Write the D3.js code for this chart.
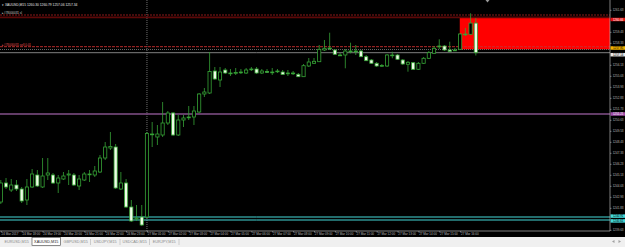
<!doctype html>
<html>
<head>
<meta charset="utf-8">
<script src="https://cdnjs.cloudflare.com/ajax/libs/d3/7.8.5/d3.min.js"></script>
<style>
  body { margin: 0; background: #000; }
  svg { display: block; }
  text { font-family: "Liberation Sans", Arial, sans-serif; }
</style>
</head>
<body>
<svg id="chart" width="625" height="247"></svg>
<script>
// XAUUSD M15, 24 Mar 2017 17:00 -> 27 Mar 2017 16:45 (server time)
const open = [1242.41,1244.31,1243.61,1244.11,1243.71,1242.61,1243.91,1245.11,1243.91,1245.11,
  1245.11,1244.31,1244.71,1245.11,1245.11,1244.01,1244.61,1245.16,1245.11,1245.41,
  1246.81,1247.81,1247.91,1243.71,1244.31,1241.91,1240.71,1240.91,1240.91,1249.21,
  1248.91,1249.11,1250.31,1251.31,1249.11,1250.61,1250.86,1250.91,1251.41,1253.21,
  1253.31,1255.51,1254.61,1255.61,1255.31,1255.31,1255.36,1255.31,1255.66,1255.71,
  1255.31,1255.46,1255.36,1255.51,1255.41,1255.26,1255.31,1255.18,1254.94,1256.01,
  1256.28,1256.44,1257.61,1257.81,1257.61,1257.11,1257.11,1257.48,1257.51,1257.51,
  1256.94,1256.61,1256.28,1256.01,1256.01,1257.11,1257.11,1256.61,1256.18,1256.34,
  1255.68,1256.28,1256.78,1257.28,1257.96,1258.01,1257.61,1257.58,1257.68,1259.21,
  1259.18,1260.30];
const high = [1244.61,1244.81,1244.71,1244.61,1243.91,1244.71,1245.71,1245.61,1246.81,1246.81,
  1245.31,1245.11,1245.41,1245.61,1245.31,1245.11,1245.41,1245.61,1246.01,1247.11,
  1248.41,1249.41,1248.21,1245.41,1244.71,1242.61,1242.11,1242.11,1249.41,1250.41,
  1250.11,1252.41,1251.51,1251.41,1251.11,1251.11,1252.01,1252.01,1253.31,1253.81,
  1257.41,1255.91,1255.91,1255.81,1255.71,1255.81,1255.71,1255.81,1255.91,1255.91,
  1255.71,1255.71,1255.81,1255.71,1255.61,1255.61,1255.51,1255.31,1256.21,1256.81,
  1256.81,1258.11,1258.61,1259.34,1257.71,1257.31,1257.71,1258.34,1258.11,1257.61,
  1257.11,1256.71,1256.41,1256.21,1257.21,1257.44,1257.21,1256.71,1256.51,1256.41,
  1256.41,1256.91,1257.51,1258.01,1258.68,1258.11,1258.44,1257.81,1259.31,1259.81,
  1261.28,1260.79];
const low = [1242.21,1243.71,1243.41,1243.51,1242.31,1242.11,1243.81,1243.91,1243.81,1244.61,
  1244.21,1243.31,1244.61,1244.11,1244.01,1243.61,1244.51,1244.41,1244.91,1245.31,
  1246.61,1247.61,1243.71,1243.61,1241.81,1240.41,1240.51,1240.01,1240.81,1247.91,
  1248.11,1248.91,1250.11,1249.01,1249.01,1249.91,1250.61,1250.11,1251.31,1252.91,
  1253.21,1254.61,1253.91,1255.21,1255.01,1255.11,1255.21,1255.21,1255.51,1255.21,
  1255.21,1255.31,1255.11,1255.31,1255.11,1255.01,1255.11,1254.91,1254.91,1255.91,
  1256.21,1256.41,1257.51,1257.61,1257.11,1257.01,1255.78,1257.28,1257.11,1256.91,
  1256.51,1256.21,1255.91,1255.91,1255.91,1256.78,1256.61,1256.11,1255.44,1255.61,
  1255.61,1256.21,1256.71,1257.21,1257.71,1257.51,1257.41,1257.51,1257.61,1259.01,
  1259.11,1257.06];
const close = [1244.31,1243.91,1244.11,1243.71,1242.51,1243.91,1245.21,1244.01,1245.01,1245.31,
  1244.31,1244.81,1245.01,1245.21,1244.11,1244.71,1245.21,1245.21,1245.51,1246.81,
  1247.91,1247.96,1243.81,1244.31,1241.91,1240.51,1240.81,1240.11,1249.26,1249.16,
  1249.21,1250.31,1251.31,1249.11,1250.61,1250.81,1250.91,1251.51,1253.21,1253.41,
  1255.46,1254.71,1255.41,1255.31,1255.26,1255.36,1255.41,1255.61,1255.71,1255.31,
  1255.51,1255.41,1255.41,1255.46,1255.16,1255.31,1255.26,1254.94,1256.04,1256.41,
  1256.48,1257.68,1257.78,1257.76,1257.18,1257.08,1257.51,1257.51,1257.48,1256.94,
  1256.54,1256.28,1256.01,1256.06,1257.11,1257.08,1256.68,1256.21,1256.38,1255.68,
  1256.28,1256.78,1257.34,1257.78,1258.01,1257.61,1257.46,1257.61,1259.21,1259.18,
  1260.30,1257.34];

const labelIdx = d3.range(0, 92, 4);
const timeLabels = ["24 Mar 2017","24 Mar 18:00","24 Mar 19:00","24 Mar 20:00","24 Mar 21:00",
  "24 Mar 22:00","24 Mar 23:00","27 Mar 01:00","27 Mar 02:00","27 Mar 03:00","27 Mar 04:00",
  "27 Mar 05:00","27 Mar 06:00","27 Mar 07:00","27 Mar 08:00","27 Mar 09:00","27 Mar 10:00",
  "27 Mar 11:00","27 Mar 12:00","27 Mar 13:00","27 Mar 14:00","27 Mar 15:00","27 Mar 16:00"];
const priceTicks = d3.range(21).map(k => +(1261.63 - k * 1.10).toFixed(2));

// levels on the chart
const slLines = [1261.11, 1260.88];
const slTag = 1260.66;
const orderLine = 1257.94;
const askLine = 1257.66;
const bidLine = 1257.34;
const purpleLine = 1251.21;
const cyanLines = [1240.91, 1240.61];
const zone = [1260.91, 1257.68];
const zoneStart = 88;
const separatorIdx = 28;

const tabNames = ["EURUSD,M15","XAUUSD,M15","GBPUSD,M15","USDJPY,M15","USDCAD,M15","EURJPY,M15"];
const activeTab = 1;
const infoText = "XAUUSD,M15  1260.30 1260.79 1257.06 1257.34";
const orderId = "#78000031";

const W = 625, H = 247, plotR = 610, plotB = 231;
const svg = d3.select("#chart");
svg.append("rect").attr("width", W).attr("height", H).attr("fill", "#000");

const x = d3.scaleLinear().domain([0, 91]).range([0.8, 475.82]);
const y = d3.scaleLinear().domain([1239.61, 1262.61]).range([230, 0]);

svg.append("clipPath").attr("id", "plotclip")
  .append("rect").attr("width", plotR).attr("height", plotB);
const plot = svg.append("g").attr("clip-path", "url(#plotclip)");

// red zone (drawn as background)
plot.append("rect")
  .attr("x", x(zoneStart) - 0.4)
  .attr("y", y(zone[0]))
  .attr("width", plotR - x(zoneStart) + 0.4)
  .attr("height", y(zone[1]) - y(zone[0]))
  .attr("fill", "#ff0000");

// day separator
plot.append("line")
  .attr("x1", x(separatorIdx)).attr("x2", x(separatorIdx))
  .attr("y1", 0).attr("y2", plotB)
  .attr("stroke", "#8c8c8c").attr("stroke-width", 0.8).attr("stroke-dasharray", "1,1");

function hline(p, color, w, dash) {
  plot.append("line")
    .attr("x1", 0).attr("x2", plotR)
    .attr("y1", y(p)).attr("y2", y(p))
    .attr("stroke", color).attr("stroke-width", w)
    .attr("stroke-dasharray", dash || null);
}
hline(slLines[0], "#b02020", 0.8, "2,1");
hline(slLines[1], "#5c0808", 1.8);
hline(orderLine, "#c83030", 0.9, "3,1");
hline(askLine, "#909090", 0.7, "1,1");
hline(bidLine, "#a0a0a0", 0.8);
hline(purpleLine, "#83508a", 1.4);
cyanLines.forEach(p => hline(p, "#44d8d8", 1));

// candles
const green = "#36a336";
const bars = plot.selectAll("g.bar").data(open.map((o, i) => i)).enter().append("g");
bars.append("line")
  .attr("x1", i => x(i)).attr("x2", i => x(i))
  .attr("y1", i => y(high[i])).attr("y2", i => y(low[i]))
  .attr("stroke", green).attr("stroke-width", 0.8);
bars.append("rect")
  .attr("x", i => x(i) - 1.6)
  .attr("y", i => y(Math.max(open[i], close[i])))
  .attr("width", 3.2)
  .attr("height", i => Math.max(0.8, Math.abs(y(open[i]) - y(close[i]))))
  .attr("fill", i => close[i] >= open[i] ? "#000" : "#eefbe6")
  .attr("stroke", green).attr("stroke-width", 0.8);

// borders
svg.append("line").attr("x1", plotR).attr("x2", plotR).attr("y1", 0).attr("y2", plotB)
  .attr("stroke", "#b4b4b4").attr("stroke-width", 0.7);
svg.append("line").attr("x1", 0).attr("x2", plotR).attr("y1", plotB).attr("y2", plotB)
  .attr("stroke", "#b4b4b4").attr("stroke-width", 0.7);

// time axis
const xAxis = svg.append("g").attr("transform", `translate(0,${plotB})`)
  .call(d3.axisBottom(x).tickValues(labelIdx).tickFormat((d, i) => timeLabels[i]).tickSize(1.5).tickPadding(0.8));
xAxis.select(".domain").remove();
xAxis.selectAll("line").attr("stroke", "#b4b4b4").attr("stroke-width", 0.6);
xAxis.selectAll("text").attr("text-anchor", "start").attr("dx", "0.3")
  .attr("fill", "#b8b8b8").attr("font-size", 3).attr("font-family", "Liberation Sans");

// price tags on the axis (their labels cover the grid labels underneath)
const tags = [
  [slTag, "#e01010", "#fff"],
  [purpleLine, "#a04ca8", "#fff"],
  [cyanLines[0], "#44d8d8", "#000"],
  [cyanLines[1], "#44d8d8", "#000"],
  [askLine + 0.15, "#f0b000", "#000"],
  [bidLine - 0.2, "#e8e8e8", "#000"]
];
const freeTicks = priceTicks.filter(t => tags.every(g => Math.abs(y(g[0]) - y(t)) > 3.6));

const yAxis = svg.append("g").attr("transform", `translate(${plotR},0)`)
  .call(d3.axisRight(y).tickValues(freeTicks).tickFormat(d3.format(".2f")).tickSize(1.5).tickPadding(1.2));
yAxis.select(".domain").remove();
yAxis.selectAll("line").attr("stroke", "#b4b4b4").attr("stroke-width", 0.6);
yAxis.selectAll("text").attr("fill", "#b8b8b8").attr("font-size", 3).attr("font-family", "Liberation Sans");

tags.forEach(([p, fill, txt], k) => {
  // the two cyan tags sit next to each other, nudge them apart
  const off = k === 2 ? -0.9 : k === 3 ? 0.9 : 0;
  const g = svg.append("g").attr("transform", `translate(${plotR + 0.5},${y(p) + off})`);
  g.append("rect").attr("x", 0).attr("y", -1.75).attr("width", W - plotR).attr("height", 3.5).attr("fill", fill);
  g.append("text").attr("x", 2.5).attr("y", 1.05).attr("font-size", 2.9).attr("fill", txt)
    .text(p.toFixed(2));
});

// shift marker
svg.append("path").attr("d", "M485.5,0 L489.5,0 L487.5,2.5 Z").attr("fill", "#9a9a9a");

// texts on chart
svg.append("text").attr("x", 2).attr("y", 6).attr("font-size", 3.3).attr("fill", "#e8e8e8")
  .text("\u25BE " + infoText);
svg.append("text").attr("x", 2).attr("y", 13.5).attr("font-size", 3).attr("fill", "#c8c8c8")
  .text("\u25B8" + orderId + " sl");
svg.append("text").attr("x", 2).attr("y", y(orderLine) - 0.6).attr("font-size", 3).attr("fill", "#e05050")
  .text("\u25B8" + orderId + " sell 0.01");

// tab bar
svg.append("rect").attr("x", 0).attr("y", 237).attr("width", W).attr("height", 10).attr("fill", "#f0f0f0");
const tabW = 29.5;
tabNames.forEach((t, i) => {
  const cx = 16.75 + i * tabW;
  if (i === activeTab) {
    svg.append("rect").attr("x", cx - tabW / 2 + 0.5).attr("y", 237.5).attr("width", tabW - 1).attr("height", 8)
      .attr("fill", "#fff").attr("stroke", "#404040").attr("stroke-width", 0.6);
  }
  svg.append("text").attr("x", cx).attr("y", 242.8).attr("text-anchor", "middle")
    .attr("font-size", 3.8).attr("fill", i === activeTab ? "#202020" : "#8a8a8a").text(t);
  if (i !== activeTab && i + 1 !== activeTab) {
    svg.append("line").attr("x1", cx + tabW / 2).attr("x2", cx + tabW / 2).attr("y1", 239).attr("y2", 245)
      .attr("stroke", "#a8a8a8").attr("stroke-width", 0.5);
  }
});
svg.append("path").attr("d", "M612,241.5 L614.5,240 L614.5,243 Z").attr("fill", "#a0a0a0");
svg.append("path").attr("d", "M621,241.5 L618.5,240 L618.5,243 Z").attr("fill", "#a0a0a0");
</script>
</body>
</html>
